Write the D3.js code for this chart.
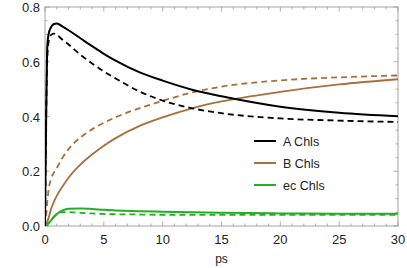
<!DOCTYPE html>
<html>
<head>
<meta charset="utf-8">
<script src="https://cdn.jsdelivr.net/npm/d3@7"></script>
<style>
  body { margin: 0; background: #fff; }
  svg { display: block; }
</style>
</head>
<body>
<svg id="chart" width="407" height="268"></svg>
<script>
// time points (ps)
var times = [0, 0.1, 0.2, 0.3, 0.5, 0.75, 1, 1.5, 2, 3, 4, 5, 6, 8, 10, 12.5, 15, 20, 25, 30];
var aSolid  = [0, 0.40, 0.66, 0.70, 0.725, 0.738, 0.74, 0.728, 0.715, 0.686, 0.657, 0.629, 0.604, 0.562, 0.531, 0.498, 0.474, 0.436, 0.414, 0.401];
var aDashed = [0, 0.40, 0.62, 0.67, 0.697, 0.703, 0.698, 0.68, 0.663, 0.626, 0.594, 0.565, 0.539, 0.492, 0.458, 0.43, 0.412, 0.393, 0.385, 0.38];
var bSolid  = [0, 0.006, 0.016, 0.028, 0.06, 0.088, 0.11, 0.145, 0.176, 0.224, 0.261, 0.293, 0.321, 0.365, 0.397, 0.43, 0.455, 0.49, 0.517, 0.536];
var bDashed = [0, 0.04, 0.09, 0.13, 0.17, 0.195, 0.212, 0.25, 0.281, 0.323, 0.353, 0.377, 0.397, 0.43, 0.457, 0.488, 0.509, 0.532, 0.543, 0.55];
var ecSolid  = [0, 0.002, 0.006, 0.01, 0.02, 0.033, 0.044, 0.057, 0.063, 0.064, 0.062, 0.059, 0.057, 0.054, 0.052, 0.05, 0.048, 0.046, 0.045, 0.045];
var ecDashed = [0, 0.002, 0.006, 0.01, 0.02, 0.033, 0.043, 0.051, 0.051, 0.048, 0.046, 0.044, 0.043, 0.042, 0.041, 0.041, 0.041, 0.041, 0.041, 0.041];

var legendNames = ["A Chls", "B Chls", "ec Chls"];
var xTicks = [0, 5, 10, 15, 20, 25, 30];
var yTicks = [0.0, 0.2, 0.4, 0.6, 0.8];

var colBlack = "#000000";
var colBrown = "#a6703d";
var colGreen = "#20b020";

var svg = d3.select("#chart");
var margin = { top: 7, right: 9, bottom: 42, left: 45 };
var width = 407 - margin.left - margin.right;
var height = 268 - margin.top - margin.bottom;

var g = svg.append("g").attr("transform", `translate(${margin.left},${margin.top})`);

var x = d3.scaleLinear().domain([0, 30]).range([0, width]);
var y = d3.scaleLinear().domain([0, 0.8]).range([height, 0]);

//========== frame + ticks (mathematica style) ==========
var frameCol = "#9a9a9a";
var minorX = d3.range(0, 31, 1);
var minorY = d3.range(0, 0.801, 0.05);

function tickLines(data, fn) {
  g.append("g").selectAll("line").data(data).enter().append("line")
    .each(fn)
    .attr("stroke", frameCol)
    .attr("stroke-width", 0.8);
}
function isMajorY(d) { return Math.abs(d * 5 - Math.round(d * 5)) < 1e-6; }
// bottom / top
tickLines(minorX, function(d) {
  var len = (d % 5 === 0) ? 4.5 : 2.5;
  d3.select(this).attr("x1", x(d)).attr("x2", x(d)).attr("y1", height).attr("y2", height - len);
});
tickLines(minorX, function(d) {
  var len = (d % 5 === 0) ? 4.5 : 2.5;
  d3.select(this).attr("x1", x(d)).attr("x2", x(d)).attr("y1", 0).attr("y2", len);
});
// left / right
tickLines(minorY, function(d) {
  var len = isMajorY(d) ? 4.5 : 2.5;
  d3.select(this).attr("x1", 0).attr("x2", len).attr("y1", y(d)).attr("y2", y(d));
});
tickLines(minorY, function(d) {
  var len = isMajorY(d) ? 4.5 : 2.5;
  d3.select(this).attr("x1", width).attr("x2", width - len).attr("y1", y(d)).attr("y2", y(d));
});

g.append("rect")
  .attr("width", width).attr("height", height)
  .attr("fill", "none")
  .attr("stroke", frameCol)
  .attr("stroke-width", 0.9);

// tick labels
g.append("g").selectAll("text").data(xTicks).enter().append("text")
  .attr("x", d => x(d))
  .attr("y", height + 18)
  .attr("text-anchor", "middle")
  .style("font-family", "Liberation Sans, Arial, sans-serif")
  .style("font-size", "13px")
  .attr("fill", "#222")
  .text(d => d);

g.append("g").selectAll("text").data(yTicks).enter().append("text")
  .attr("x", -5)
  .attr("y", d => y(d) + 5)
  .attr("text-anchor", "end")
  .style("font-family", "Liberation Sans, Arial, sans-serif")
  .style("font-size", "13px")
  .attr("fill", "#222")
  .text(d => d3.format(".1f")(d));

// axis label
g.append("text")
  .attr("x", x(15))
  .attr("y", height + 37)
  .attr("text-anchor", "middle")
  .style("font-family", "Liberation Sans, Arial, sans-serif")
  .style("font-size", "12px")
  .attr("fill", "#222")
  .text("ps");

//========== lines ==========
var series = [
  { vals: bDashed, col: colBrown, w: 1.8, dash: "6,4" },
  { vals: bSolid,  col: colBrown, w: 1.8, dash: null },
  { vals: ecDashed, col: colGreen, w: 1.8, dash: "6,4" },
  { vals: ecSolid,  col: colGreen, w: 2, dash: null },
  { vals: aDashed, col: colBlack, w: 1.8, dash: "6,4" },
  { vals: aSolid,  col: colBlack, w: 2, dash: null }
];

var line = d3.line()
  .x((d, i) => x(times[i]))
  .y(d => y(d))
  .curve(d3.curveMonotoneX);

svg.append("clipPath").attr("id", "clip")
  .append("rect").attr("x", 0).attr("y", -2).attr("width", width).attr("height", height + 2);

series.forEach(function(s) {
  g.append("path")
    .datum(s.vals)
    .attr("clip-path", "url(#clip)")
    .attr("fill", "none")
    .attr("stroke", s.col)
    .attr("stroke-width", s.w)
    .attr("stroke-dasharray", s.dash)
    .attr("d", line);
});

//========== legend ==========
var legCols = [colBlack, colBrown, colGreen];
var leg = svg.append("g").attr("transform", "translate(254,141)");
legendNames.forEach(function(name, i) {
  leg.append("line")
    .attr("x1", 0).attr("x2", 22)
    .attr("y1", i * 22).attr("y2", i * 22)
    .attr("stroke", legCols[i])
    .attr("stroke-width", 2);
  leg.append("text")
    .attr("x", 29).attr("y", i * 22 + 4.5)
    .style("font-family", "Liberation Sans, Arial, sans-serif")
    .style("font-size", "12.5px")
    .attr("fill", "#222")
    .text(name);
});
</script>
</body>
</html>
